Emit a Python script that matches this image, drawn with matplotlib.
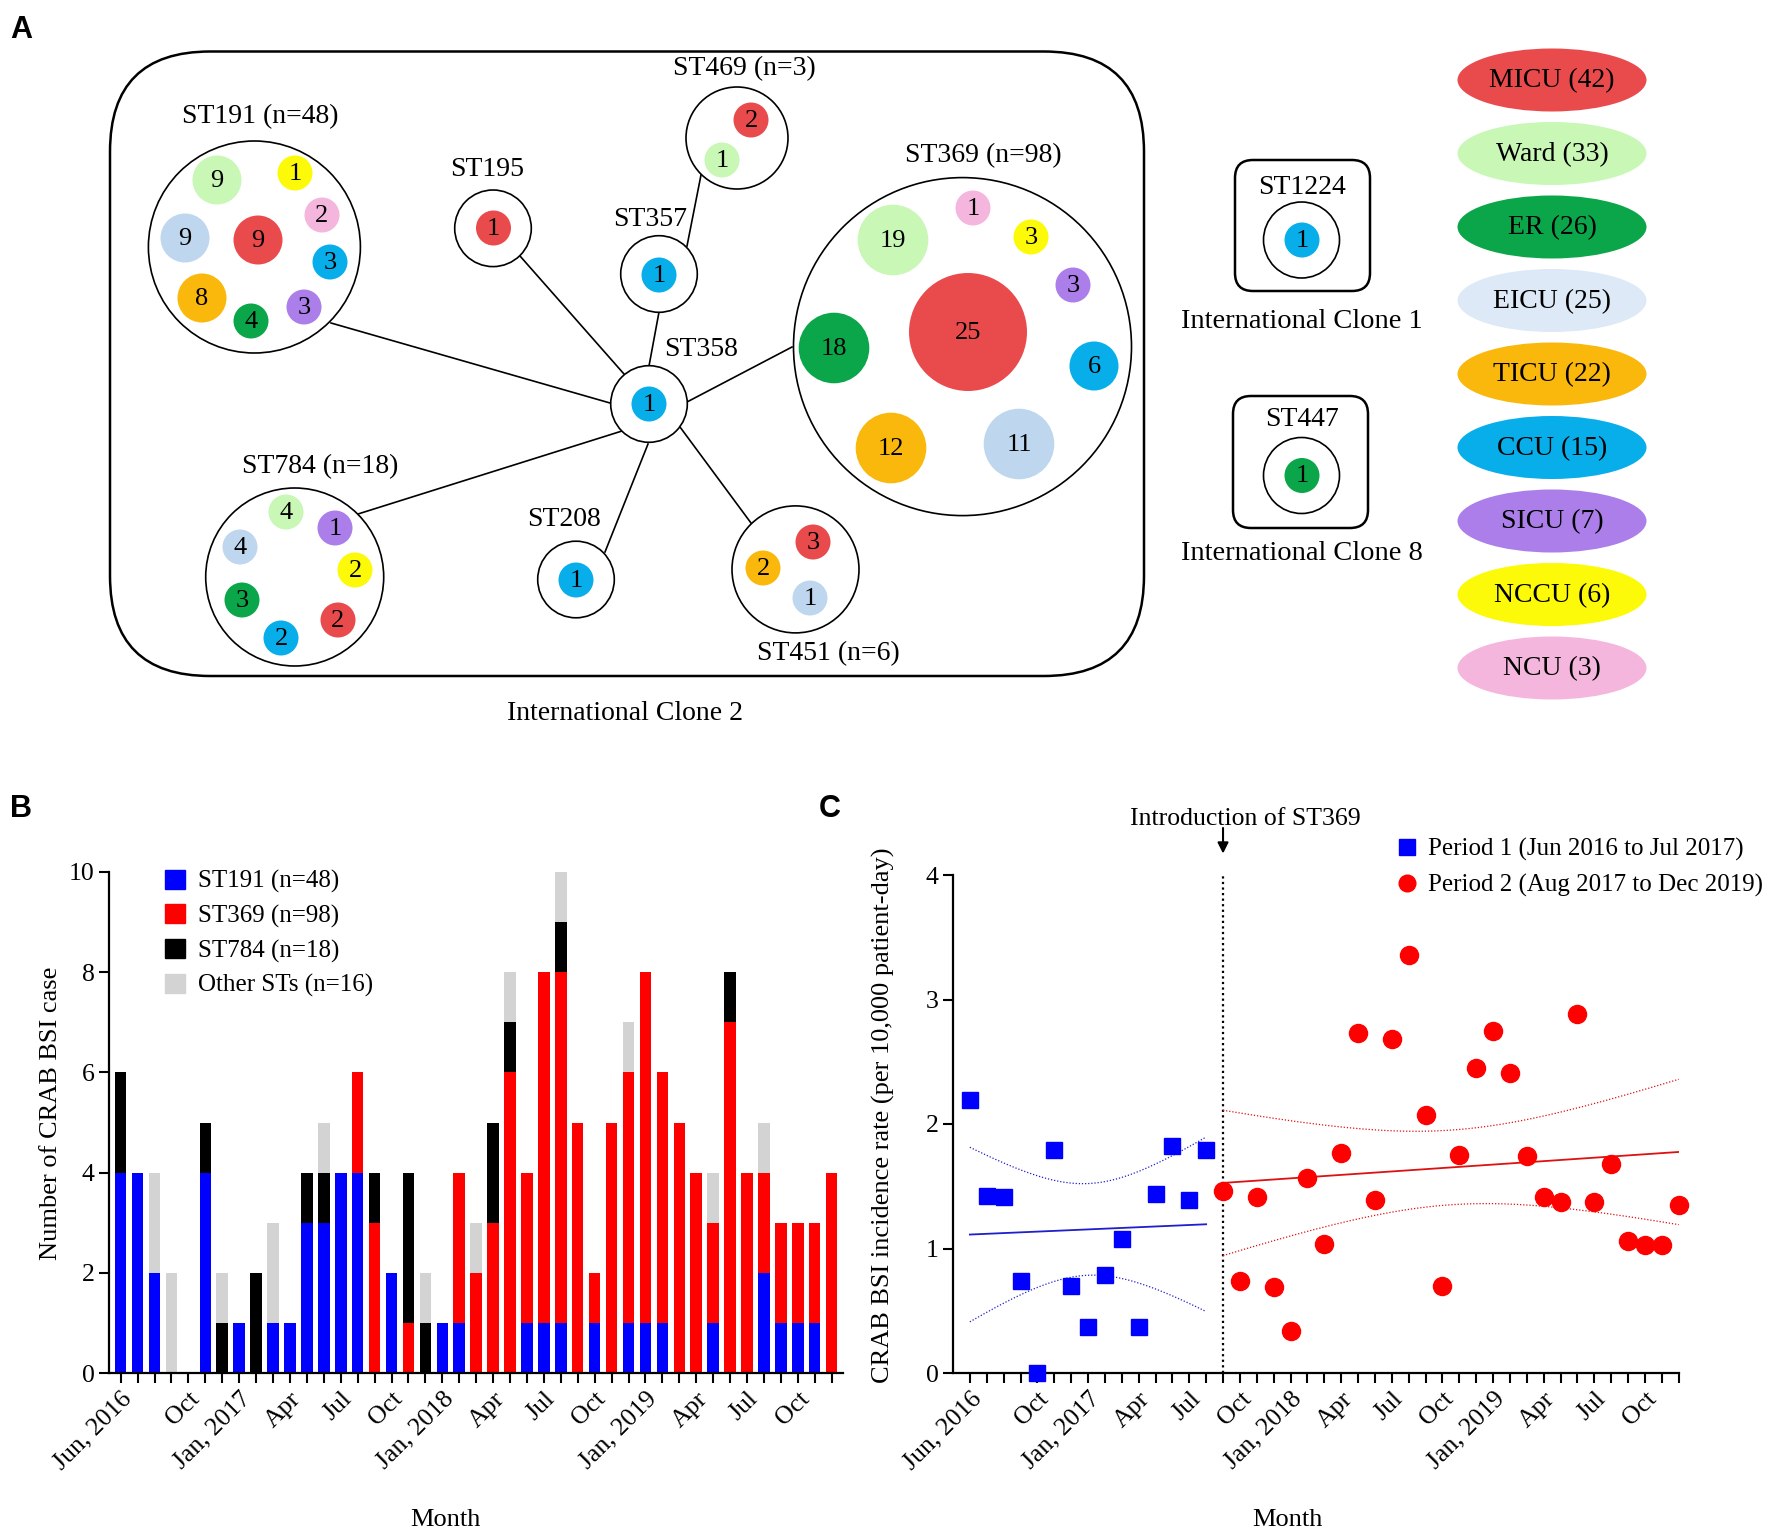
import matplotlib
matplotlib.use("Agg")
import matplotlib.pyplot as plt
import numpy as np
from matplotlib.patches import Circle, Ellipse, FancyBboxPatch, Patch
from matplotlib.lines import Line2D

plt.rcParams['font.family'] = ['Liberation Serif', 'DejaVu Serif']

# ---------------- data ----------------
# panel A: isolates per unit for each sequence type
st191_units = ["Ward", "NCCU", "NCU", "EICU", "MICU", "CCU", "TICU", "ER", "SICU"]
st191_counts = [9, 1, 2, 9, 9, 3, 8, 4, 3]
st195_units = ["MICU"]
st195_counts = [1]
st357_units = ["CCU"]
st357_counts = [1]
st358_units = ["CCU"]
st358_counts = [1]
st469_units = ["MICU", "Ward"]
st469_counts = [2, 1]
st369_units = ["NCU", "NCCU", "Ward", "SICU", "MICU", "ER", "CCU", "TICU", "EICU"]
st369_counts = [1, 3, 19, 3, 25, 18, 6, 12, 11]
st784_units = ["Ward", "SICU", "EICU", "NCCU", "ER", "MICU", "CCU"]
st784_counts = [4, 1, 4, 2, 3, 2, 2]
st208_units = ["CCU"]
st208_counts = [1]
st451_units = ["MICU", "TICU", "EICU"]
st451_counts = [3, 2, 1]
st1224_units = ["CCU"]
st1224_counts = [1]
st447_units = ["ER"]
st447_counts = [1]

legend_units = ["MICU", "Ward", "ER", "EICU", "TICU", "CCU", "SICU", "NCCU", "NCU"]
legend_counts = [42, 33, 26, 25, 22, 15, 7, 6, 3]

# panel B: monthly CRAB BSI cases, Jun 2016 .. Dec 2019
st191 = [4, 4, 2, 0, 0, 4, 0, 1, 0, 1, 1, 3, 3, 4, 4, 0, 2, 0, 0, 1, 1, 0,
         0, 0, 1, 1, 1, 0, 1, 0, 1, 1, 1, 0, 0, 1, 0, 0, 2, 1, 1, 1, 0]
st369 = [0, 0, 0, 0, 0, 0, 0, 0, 0, 0, 0, 0, 0, 0, 2, 3, 0, 1, 0, 0, 3, 2,
         3, 6, 3, 7, 7, 5, 1, 5, 5, 7, 5, 5, 4, 2, 7, 4, 2, 2, 2, 2, 4]
st784 = [2, 0, 0, 0, 0, 1, 1, 0, 2, 0, 0, 1, 1, 0, 0, 1, 0, 3, 1, 0, 0, 0,
         2, 1, 0, 0, 1, 0, 0, 0, 0, 0, 0, 0, 0, 0, 1, 0, 0, 0, 0, 0, 0]
other = [0, 0, 2, 2, 0, 0, 1, 0, 0, 2, 0, 0, 1, 0, 0, 0, 0, 0, 1, 0, 0, 1,
         0, 1, 0, 0, 1, 0, 0, 0, 1, 0, 0, 0, 0, 1, 0, 0, 1, 0, 0, 0, 0]
series_labels = ["ST191 (n=48)", "ST369 (n=98)", "ST784 (n=18)", "Other STs (n=16)"]

tick_idx = [0, 4, 7, 10, 13, 16, 19, 22, 25, 28, 31, 34, 37, 40]
tick_text = ["Jun, 2016", "Oct", "Jan, 2017", "Apr", "Jul", "Oct", "Jan, 2018",
             "Apr", "Jul", "Oct", "Jan, 2019", "Apr", "Jul", "Oct"]

# panel C: incidence rate per 10,000 patient-day
period1 = [2.19, 1.42, 1.41, 0.74, 0.00, 1.79, 0.70, 0.37, 0.79, 1.08, 0.37,
           1.44, 1.82, 1.39, 1.79]
period2 = [1.46, 0.74, 1.41, 0.69, 0.34, 1.57, 1.04, 1.77, 2.73, 1.39, 2.68,
           3.36, 2.07, 0.70, 1.75, 2.45, 2.75, 2.41, 1.74, 1.41, 1.37, 2.88,
           1.37, 1.68, 1.06, 1.03, 1.03, 1.35]
t95_p1 = 2.160   # t(0.975, df=13)
t95_p2 = 2.056   # t(0.975, df=26)

# ---------------- styles ----------------
unit_colors = {"MICU": "#e94b4d", "Ward": "#c8f7b6", "ER": "#0ba64a",
               "EICU": "#bed6ee", "TICU": "#fbb80c", "CCU": "#08aeea",
               "SICU": "#ab7eea", "NCCU": "#fcfa08", "NCU": "#f5b6de"}
legend_fill = dict(unit_colors, EICU="#dde9f6")
BLUE, RED, GRAY = "#0000ff", "#ff0000", "#d3d3d3"

W, H = 1775, 1533
fig = plt.figure(figsize=(W / 100, H / 100), dpi=100)

# ---------------- panel A (pixel canvas) ----------------
axA = fig.add_axes([0, 0, 1, 1])
axA.set_xlim(0, W)
axA.set_ylim(H, 0)
axA.axis('off')


def bubble_r(n):
    if n <= 4:
        return 17.5
    if n <= 9:
        return 24.5
    if n <= 19:
        return 35.3
    return 59


def draw_group(units, counts, spots, center, radius, name, label_xy, show_n=True):
    axA.add_patch(Circle(center, radius, fc='white', ec='black', lw=1.2, zorder=3))
    for u, n, (x, y) in zip(units, counts, spots):
        axA.add_patch(Circle((x, y), bubble_r(n), fc=unit_colors[u], ec='none', zorder=4))
        axA.text(x, y + 1, str(n), ha='center', va='center', fontsize=19, zorder=5)
    label = f"{name} (n={sum(counts)})" if show_n else name
    axA.text(label_xy[0], label_xy[1], label, ha='center', va='center', fontsize=20, zorder=5)


axA.add_patch(FancyBboxPatch((110, 51.5), 1034, 624.5,
                             boxstyle="round,pad=0,rounding_size=100",
                             fc='none', ec='black', lw=1.8, zorder=1))
axA.text(625, 713, "International Clone 2", ha='center', va='center', fontsize=20)

links = [((331, 323), (610, 403)), ((520, 256), (624, 374)), ((659, 312), (649, 366)),
         ((701, 175), (687, 246)), ((687, 402), (792, 347)), ((680, 427), (751, 523)),
         ((622, 431), (358, 514)), ((648, 444), (605, 552))]
for p, q in links:
    axA.plot([p[0], q[0]], [p[1], q[1]], color='black', lw=1.2, zorder=2)

draw_group(st191_units, st191_counts,
           [(217, 180), (295, 173), (322, 215), (185, 238), (258, 240),
            (330, 262), (202, 298), (251, 321), (304, 307)],
           (254.4, 247), 106, "ST191", (260, 117))
draw_group(st195_units, st195_counts, [(493.5, 228)], (493, 228.3), 38.3, "ST195", (487, 170), False)
draw_group(st357_units, st357_counts, [(659, 275)], (659, 274), 38.3, "ST357", (650, 219), False)
draw_group(st358_units, st358_counts, [(649, 404)], (649, 404), 38.3, "ST358", (701, 349), False)
draw_group(st469_units, st469_counts, [(751, 120), (722, 160)], (737, 138), 51, "ST469", (744, 69))
draw_group(st369_units, st369_counts,
           [(973, 208), (1031, 237), (893, 240), (1073, 285), (968, 332),
            (834, 348), (1094, 366), (891, 448), (1019, 444)],
           (962.5, 346.6), 169, "ST369", (983, 156))
draw_group(st784_units, st784_counts,
           [(286, 512), (335, 528), (240, 547), (355, 570), (242, 600),
            (338, 620), (281, 638)],
           (294.7, 577), 89, "ST784", (320, 467))
draw_group(st208_units, st208_counts, [(576, 580)], (576, 579.5), 38.3, "ST208", (564, 520), False)
draw_group(st451_units, st451_counts, [(813, 542), (763, 568), (810, 598)],
           (795.5, 569.4), 63.5, "ST451", (828, 654))

for (bx, by, bw, bh), units, counts, name, lab_y, cy, clone, clone_y in [
        ((1235, 160, 135, 131), st1224_units, st1224_counts, "ST1224", 187, 240,
         "International Clone 1", 321),
        ((1233, 396, 135, 132), st447_units, st447_counts, "ST447", 419, 475.5,
         "International Clone 8", 553)]:
    axA.add_patch(FancyBboxPatch((bx, by), bw, bh, boxstyle="round,pad=0,rounding_size=18",
                                 fc='none', ec='black', lw=1.8, zorder=1))
    draw_group(units, counts, [(1302, cy)], (1301.5, cy), 38, name, (1302, lab_y), False)
    axA.text(1302, clone_y, clone, ha='center', va='center', fontsize=20.5)

for i, (u, c) in enumerate(zip(legend_units, legend_counts)):
    yc = 80 + i * 73.5
    axA.add_patch(Ellipse((1552, yc), 189, 63, fc=legend_fill[u], ec='none', zorder=2))
    axA.text(1552, yc + 1, f"{u} ({c})", ha='center', va='center', fontsize=20, zorder=3)

# ---------------- panel B ----------------
axB = fig.add_axes([109 / W, 1 - 1373 / H, (843 - 109) / W, (1373 - 872) / H])
x = np.arange(len(st191))
bottom = np.zeros(len(x))
for vals, col in zip([st191, st369, st784, other], [BLUE, RED, 'black', GRAY]):
    axB.bar(x, vals, width=0.68, bottom=bottom, color=col, linewidth=0)
    bottom += np.array(vals)
axB.set_xlim(-0.69, 42.67)
axB.set_ylim(0, 10)
axB.set_yticks(range(0, 11, 2))
labels = [''] * len(x)
for i, t in zip(tick_idx, tick_text):
    labels[i] = t
axB.set_xticks(x, labels)

handles = [Patch(color=c) for c in [BLUE, RED, 'black', GRAY]]
axB.legend(handles, series_labels, loc='upper left', bbox_to_anchor=(165 / W, 1 - 869.5 / H),
           bbox_transform=fig.transFigure, frameon=False, fontsize=18,
           handlelength=0.8, handleheight=0.8, handletextpad=0.5, labelspacing=0.44,
           borderpad=0, borderaxespad=0)

# ---------------- panel C ----------------
axC = fig.add_axes([953 / W, 1 - 1373 / H, (1678.7 - 953) / W, (1373 - 875) / H])
x1 = np.arange(len(period1))
x2 = np.arange(len(period1), len(period1) + len(period2))


def fit_band(xs, ys, t):
    xs = np.asarray(xs, float)
    ys = np.asarray(ys, float)
    b, a = np.polyfit(xs, ys, 1)
    s = np.sqrt(np.sum((ys - (a + b * xs)) ** 2) / (len(xs) - 2))
    g = np.linspace(xs.min(), xs.max(), 200)
    f = a + b * g
    half = t * s * np.sqrt(1 / len(xs) + (g - xs.mean()) ** 2 / np.sum((xs - xs.mean()) ** 2))
    return g, f, f - half, f + half


for xs, ys, t, col in [(x1, period1, t95_p1, '#1f1fcc'), (x2, period2, t95_p2, '#dd1111')]:
    g, f, lo, hi = fit_band(xs, ys, t)
    axC.plot(g, f, color=col, lw=1.3, zorder=2)
    axC.plot(g, lo, color=col, lw=0.9, ls=(0, (1, 1.5)), zorder=2)
    axC.plot(g, hi, color=col, lw=0.9, ls=(0, (1, 1.5)), zorder=2)

axC.plot(x1, period1, 's', color=BLUE, ms=12, ls='none', clip_on=False, zorder=4)
axC.plot(x2, period2, 'o', color=RED, ms=13, ls='none', clip_on=False, zorder=4)
axC.axvline(len(period1), ymin=0, ymax=1, color='black', lw=1.6, ls=(0, (1, 1.5)), zorder=1)
axC.annotate('', xy=(len(period1), 4.15), xytext=(len(period1), 4.4),
             arrowprops=dict(arrowstyle='-|>', color='black', lw=1.5, mutation_scale=16),
             annotation_clip=False)
fig.text(1245 / W, 1 - 819 / H, "Introduction of ST369", ha='center', va='center', fontsize=18.5)

axC.set_xlim(-1, 42)
axC.set_ylim(0, 4)
axC.set_yticks(range(5))
xc = np.arange(len(period1) + len(period2))
labels_c = [''] * len(xc)
for i, t in zip(tick_idx, tick_text):
    labels_c[i] = t
axC.set_xticks(xc, labels_c)

hc = [Line2D([], [], marker='s', color=BLUE, ls='none', ms=11),
      Line2D([], [], marker='o', color=RED, ls='none', ms=12)]
axC.legend(hc, ["Period 1 (Jun 2016 to Jul 2017)", "Period 2 (Aug 2017 to Dec 2019)"],
           loc='upper left', bbox_to_anchor=(1397 / W, 1 - 838 / H),
           bbox_transform=fig.transFigure, frameon=False, fontsize=18,
           handlelength=0.8, handletextpad=0.45, labelspacing=0.5,
           borderpad=0, borderaxespad=0)

for ax in (axB, axC):
    for side in ('top', 'right'):
        ax.spines[side].set_visible(False)
    for side in ('left', 'bottom'):
        ax.spines[side].set_linewidth(1.6)
    ax.tick_params(direction='out', length=7, width=1.5, labelsize=18.5)
    plt.setp(ax.get_xticklabels(), rotation=45, ha='right', va='top', rotation_mode='anchor')

fig.text(51 / W, 1 - 1113 / H, "Number of CRAB BSI case", rotation=90, ha='center', va='center', fontsize=19)
fig.text(883 / W, 1 - 1115 / H, "CRAB BSI incidence rate (per 10,000 patient-day)",
         rotation=90, ha='center', va='center', fontsize=19)
fig.text(445 / W, 1 - 1520 / H, "Month", ha='center', va='center', fontsize=19)
fig.text(1287 / W, 1 - 1520 / H, "Month", ha='center', va='center', fontsize=19)

for lab, px, py in [("A", 21, 30), ("B", 21, 809), ("C", 830, 809)]:
    fig.text(px / W, 1 - py / H, lab, ha='center', va='center', fontsize=22,
             fontweight='bold', family='Liberation Sans')

fig.savefig("out.png", dpi=100)
